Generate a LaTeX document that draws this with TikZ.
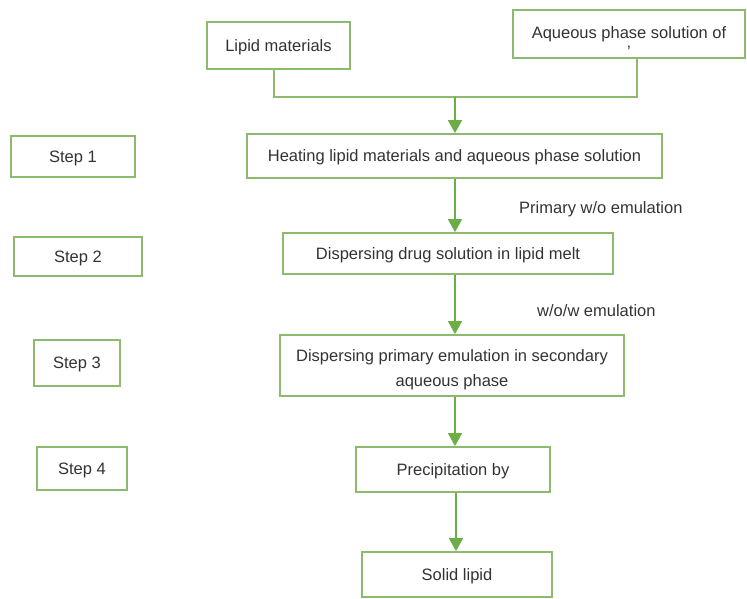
\documentclass[tikz,border=0pt]{standalone}
\usepackage{fontspec}
\setmainfont{Liberation Sans}
\usepackage{tikz}
\usetikzlibrary{
  arrows.meta,
  positioning,
}
\definecolor{boxLine}{HTML}{8DBA6C}
\definecolor{arrowCol}{HTML}{6AAE45}
\definecolor{textCol}{HTML}{333333}
\tikzset{
  flowbox/.style={
    rectangle, draw=boxLine, line width=1.8pt, fill=white,
    inner sep=3pt, font=\fontsize{16.5}{25}\selectfont, text=textCol,
    align=center, text depth=0pt,
  },
  stepbox/.style={
    flowbox, font=\fontsize{16.5}{18}\selectfont,
  },
  arrowMed/.style={
    -{Triangle[length=13pt,width=14pt]}, line width=1.8pt, draw=arrowCol,
  },
  joinLine/.style={
    line width=1.8pt, draw=boxLine,
  },
  edgeLabel/.style={
    font=\fontsize{16.5}{18}\selectfont, text=textCol,
  },
}
\begin{document}
\begin{tikzpicture}[x=1pt, y=-1pt]
\useasboundingbox (0,0) rectangle (747,599);

% inputs
\node[flowbox, minimum width=143pt, minimum height=47pt] (lipid) at (278.5,45.5)
  {Lipid materials};
\node[flowbox, minimum width=232pt, minimum height=48pt, inner ysep=0pt,
      text height=48pt] (aqueous) at (629,34)
  {Aqueous phase solution of\\[-6pt] '};

% main column
\node[flowbox, minimum width=415pt, minimum height=44pt] (heat) at (454.5,156)
  {Heating lipid materials and aqueous phase solution};
\node[flowbox, minimum width=330pt, minimum height=41pt] (disp) at (448,253.5)
  {Dispersing drug solution in lipid melt};
\node[flowbox, minimum width=344pt, minimum height=61pt, text height=42pt]
  (second) at (452,365.5)
  {Dispersing primary emulation in secondary\\ aqueous phase};
\node[flowbox, minimum width=194pt, minimum height=45pt] (precip) at (453,469.5)
  {Precipitation by};
\node[flowbox, minimum width=190pt, minimum height=45pt] (solid) at (457,574.5)
  {Solid lipid};

% step labels
\node[stepbox, minimum width=124pt, minimum height=41pt] (step1) at (73,156.5) {Step 1};
\node[stepbox, minimum width=128pt, minimum height=39pt] (step2) at (78,256.5) {Step 2};
\node[stepbox, minimum width=86pt, minimum height=46pt] (step3) at (77,363) {Step 3};
\node[stepbox, minimum width=90pt, minimum height=43pt] (step4) at (82,468.5) {Step 4};

% joining the two inputs
\coordinate (merge) at (455,97);
\draw[joinLine] (lipid.south -| 274,0) |- (merge) -| (aqueous.south -| 637,0);
\draw[arrowMed] (merge) -- (heat.north -| merge);

% flow arrows
\draw[arrowMed] (heat.south -| merge) -- (disp.north -| merge)
  node[edgeLabel, pos=0.5, right=60pt, yshift=-4pt] (lblA) {Primary w/o emulation};
\draw[arrowMed] (disp.south -| merge) -- (second.north -| merge)
  node[edgeLabel, pos=0.5, right=78pt, yshift=-6pt] (lblB) {w/o/w emulation};
\draw[arrowMed] (second.south -| merge) -- (precip.north -| merge);
\draw[arrowMed] (precip.south -| 456,0) -- (solid.north -| 456,0);

\end{tikzpicture}
\end{document}
